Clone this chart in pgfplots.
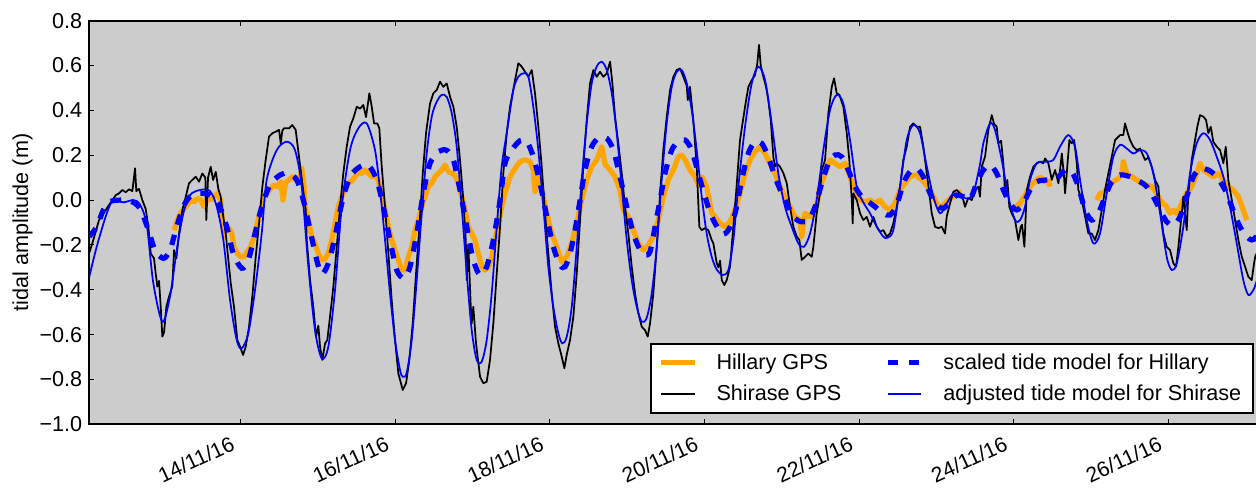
\documentclass[border=0pt]{standalone}
\usepackage{fontspec}
\setmainfont{Liberation Sans}
\usepackage{graphicx}
\usepackage{pgfplots}
\pgfplotsset{compat=1.18}
\definecolor{bgc}{gray}{0.8}
\definecolor{mplorange}{RGB}{255,165,0}
\newcommand{\fs}{\fontsize{10.8}{13}\selectfont}
\newcommand{\rl}[1]{\rotatebox{25}{\fontsize{10.6}{12}\selectfont #1}}
\begin{document}
\begin{tikzpicture}
\begin{axis}[
  scale only axis,
  width=587.55pt, height=201.8pt,
  xmin=12.041, xmax=27.243, ymin=-1, ymax=0.8,
  axis background/.style={fill=bgc},
  axis line style={line width=0.875pt},
  xtick={14,16,18,20,22,24,26},
  xticklabels={\rl{14/11/16},\rl{16/11/16},\rl{18/11/16},\rl{20/11/16},\rl{22/11/16},\rl{24/11/16},\rl{26/11/16}},
  ytick={-1,-0.8,-0.6,-0.4,-0.2,0,0.2,0.4,0.6,0.8},
  yticklabels={−1.0,−0.8,−0.6,−0.4,−0.2,0.0,0.2,0.4,0.6,0.8},
  tick align=inside,
  major tick length=2.6pt,
  tick style={black, line width=0.45pt},
  tick label style={font=\fs},
  xticklabel style={anchor=north east, inner sep=0pt, outer sep=0pt, yshift=-5.5pt, xshift=-2.3pt},
  ylabel={tidal amplitude (m)},
  ylabel style={font=\fs, at={(axis description cs:-0.0568,0.5)}, anchor=center},
  unbounded coords=jump,
  legend columns=2,
  legend cell align=left,
  legend style={at={(rel axis cs:1,0)}, anchor=south east, xshift=-5.35pt, yshift=5.35pt,
    draw=black, line width=0.875pt, fill=white,
    inner xsep=3.8pt, inner ysep=2.675pt, row sep=2.3pt, font=\fs,
    /tikz/every odd column/.append style={column sep=7.7pt},
    /tikz/every even column/.append style={column sep=20pt}},
  legend image code/.code={\draw[#1] (0pt,0pt) -- (16.75pt,0pt);},
]
\addlegendimage{color=mplorange, line width=2.6pt}
\addlegendentry{Hillary GPS}
\addlegendimage{color=blue, line width=2.6pt, dash pattern=on 5.25pt off 5.25pt}
\addlegendentry{scaled tide model for Hillary}
\addlegendimage{color=black, line width=0.875pt}
\addlegendentry{Shirase GPS}
\addlegendimage{color=blue, line width=0.875pt}
\addlegendentry{adjusted tide model for Shirase}

% Hillary GPS
\addplot[forget plot, color=mplorange, line width=2.6pt, line join=round, no marks] coordinates {
(13.137,-0.134) (13.180,-0.089) (13.224,-0.059) (13.267,-0.037) (13.309,-0.022) (13.353,0.000) (13.396,-0.008) (13.439,0.007) (13.483,0.000) (13.525,-0.030) (13.568,0.007) (13.612,0.000) (13.655,0.015) (13.697,0.030) (13.741,0.000) (13.762,-0.089) (13.784,-0.163) (13.806,-0.120) (13.849,-0.126) (13.884,-0.150) (13.913,-0.208) (13.956,-0.238) (14.000,-0.253) (14.043,-0.253) (14.085,-0.230) (14.129,-0.208) (14.172,-0.163) (14.215,-0.104) (14.259,-0.044) (14.301,0.015) (14.344,0.037) (14.388,0.052) (14.431,0.067) (14.473,0.060) (14.517,0.082) (14.547,0.000) (14.582,0.080) (14.625,0.090) (14.667,0.104) (14.711,0.090) (14.754,0.085) (14.789,0.142) (14.819,0.060) (14.832,-0.030) (14.875,-0.089) (14.919,-0.163) (14.961,-0.193) (15.004,-0.238) (15.048,-0.267) (15.091,-0.262) (15.133,-0.238) (15.177,-0.178) (15.220,-0.104) (15.263,-0.030) (15.307,0.015) (15.349,0.052) (15.392,0.075) (15.436,0.085) (15.479,0.104) (15.521,0.127) (15.565,0.118) (15.608,0.134) (15.651,0.120) (15.695,0.104) (15.737,0.110) (15.780,0.090) (15.824,0.015) (15.867,-0.044) (15.910,-0.119) (15.953,-0.178) (15.996,-0.223) (16.039,-0.267) (16.083,-0.312) (16.126,-0.312) (16.168,-0.253) (16.212,-0.208) (16.255,-0.134) (16.298,-0.089) (16.342,-0.030) (16.384,0.015) (16.427,0.060) (16.471,0.075) (16.514,0.104) (16.556,0.119) (16.600,0.134) (16.643,0.156) (16.686,0.128) (16.730,0.119) (16.772,0.112) (16.815,0.075) (16.859,0.015) (16.902,-0.044) (16.944,-0.119) (16.988,-0.149) (17.031,-0.178) (17.074,-0.238) (17.118,-0.297) (17.160,-0.312) (17.203,-0.300) (17.247,-0.253) (17.290,-0.178) (17.333,-0.104) (17.376,-0.030) (17.419,0.030) (17.484,0.104) (17.549,0.141) (17.613,0.171) (17.678,0.180) (17.743,0.171) (17.785,0.134) (17.807,0.037) (17.837,0.119) (17.894,0.045) (17.959,-0.059) (18.023,-0.149) (18.088,-0.208) (18.153,-0.275) (18.217,-0.253) (18.282,-0.193) (18.347,-0.104) (18.411,0.000) (18.476,0.090) (18.541,0.149) (18.605,0.179) (18.670,0.238) (18.713,0.160) (18.778,0.134) (18.842,0.104) (18.907,0.045) (18.950,-0.044) (19.014,-0.074) (19.079,-0.134) (19.144,-0.193) (19.208,-0.223) (19.273,-0.201) (19.338,-0.163) (19.403,-0.089) (19.467,0.015) (19.532,0.090) (19.597,0.134) (19.661,0.193) (19.705,0.200) (19.748,0.180) (19.812,0.134) (19.877,0.104) (19.920,0.070) (19.964,0.104) (20.028,0.060) (20.093,-0.059) (20.136,-0.074) (20.201,-0.104) (20.265,-0.119) (20.330,-0.097) (20.395,-0.044) (20.459,0.030) (20.524,0.119) (20.589,0.179) (20.653,0.216) (20.718,0.238) (20.783,0.208) (20.847,0.164) (20.912,0.119) (20.977,0.060) (21.041,0.015) (21.106,-0.030) (21.171,-0.074) (21.235,-0.089) (21.257,-0.163) (21.300,-0.059) (21.365,-0.074) (21.430,-0.059) (21.494,0.060) (21.559,0.119) (21.624,0.179) (21.688,0.164) (21.753,0.149) (21.818,0.164) (21.882,0.104) (21.947,0.045) (22.012,0.000) (22.076,-0.007) (22.141,0.000) (22.206,-0.015) (22.270,0.000) (22.335,-0.030) (22.400,-0.044) (22.464,-0.015) (22.529,0.045) (22.594,0.075) (22.659,0.104) (22.723,0.112) (22.788,0.097) (22.853,0.075) (22.917,0.045) (22.982,0.000) (23.047,-0.037) (23.111,-0.015) (23.176,0.007) (23.241,0.022) (23.327,0.037) (23.6,nan)
(24.017,-0.020) (24.060,-0.030) (24.104,0.000) (24.146,0.020) (24.189,0.050) (24.233,0.070) (24.276,0.082) (24.318,0.097) (24.362,0.100) (24.405,0.080) (24.448,0.085) (24.470,0.060) (24.7,nan)
(25.074,0.000) (25.116,0.030) (25.159,0.030) (25.224,0.060) (25.289,0.082) (25.353,0.097) (25.397,0.110) (25.418,0.171) (25.462,0.119) (25.527,0.104) (25.591,0.090) (25.656,0.075) (25.721,0.067) (25.785,0.060) (25.850,0.030) (25.893,0.000) (25.935,-0.015) (25.979,-0.030) (26.022,-0.059) (26.065,-0.045) (26.109,-0.059) (26.152,-0.030) (26.194,0.000) (26.238,0.030) (26.303,0.060) (26.367,0.119) (26.410,0.164) (26.453,0.134) (26.518,0.119) (26.582,0.104) (26.647,0.119) (26.712,0.090) (26.776,0.060) (26.841,0.045) (26.906,0.015) (26.970,-0.044) (27.014,-0.089)
};

% Shirase GPS
\addplot[forget plot, color=black, line width=0.875pt, line join=round, no marks] coordinates {
(12.038,-0.238) (12.080,-0.193) (12.124,-0.141) (12.167,-0.089) (12.210,-0.067) (12.254,-0.044) (12.296,-0.022) (12.339,0.000) (12.383,0.022) (12.426,0.030) (12.468,0.045) (12.512,0.035) (12.555,0.048) (12.598,0.040) (12.633,0.142) (12.649,0.040) (12.684,0.050) (12.727,0.000) (12.771,-0.040) (12.805,-0.119) (12.836,-0.238) (12.878,-0.260) (12.900,-0.327) (12.921,-0.386) (12.943,-0.360) (12.965,-0.476) (12.986,-0.609) (13.008,-0.590) (13.038,-0.476) (13.072,-0.431) (13.115,-0.386) (13.137,-0.223) (13.167,-0.260) (13.202,-0.149) (13.245,-0.044) (13.289,0.015) (13.331,0.075) (13.374,0.090) (13.418,0.104) (13.461,0.082) (13.503,0.119) (13.542,0.100) (13.555,-0.089) (13.577,0.100) (13.612,0.149) (13.642,0.090) (13.677,0.126) (13.710,0.050) (13.741,0.015) (13.762,-0.044) (13.806,-0.149) (13.840,-0.267) (13.871,-0.371) (13.913,-0.476) (13.956,-0.624) (14.000,-0.661) (14.030,-0.691) (14.065,-0.654) (14.107,-0.565) (14.150,-0.431) (14.194,-0.253) (14.237,-0.104) (14.280,0.060) (14.323,0.179) (14.366,0.283) (14.409,0.298) (14.453,0.305) (14.496,0.313) (14.517,0.253) (14.538,0.310) (14.560,0.320) (14.625,0.320) (14.667,0.335) (14.711,0.313) (14.754,0.193) (14.797,0.075) (14.841,-0.044) (14.854,-0.178) (14.897,-0.357) (14.939,-0.476) (14.974,-0.609) (15.004,-0.560) (15.026,-0.654) (15.056,-0.713) (15.091,-0.640) (15.120,-0.624) (15.155,-0.520) (15.198,-0.386) (15.242,-0.208) (15.285,-0.030) (15.327,0.119) (15.371,0.238) (15.414,0.327) (15.457,0.365) (15.501,0.416) (15.544,0.408) (15.586,0.424) (15.621,0.370) (15.664,0.476) (15.695,0.416) (15.725,0.342) (15.767,0.342) (15.793,0.320) (15.824,0.149) (15.867,-0.030) (15.910,-0.238) (15.953,-0.446) (15.996,-0.624) (16.039,-0.773) (16.096,-0.847) (16.139,-0.817) (16.181,-0.713) (16.225,-0.550) (16.268,-0.327) (16.311,-0.119) (16.355,0.119) (16.397,0.298) (16.449,0.431) (16.492,0.476) (16.536,0.491) (16.578,0.528) (16.621,0.505) (16.665,0.520) (16.708,0.461) (16.751,0.416) (16.794,0.327) (16.837,0.179) (16.880,0.000) (16.911,-0.178) (16.924,-0.357) (16.944,-0.200) (16.976,-0.476) (16.988,-0.550) (17.009,-0.476) (17.044,-0.639) (17.096,-0.788) (17.139,-0.817) (17.182,-0.810) (17.225,-0.713) (17.268,-0.550) (17.312,-0.327) (17.355,-0.119) (17.397,0.119) (17.441,0.298) (17.484,0.416) (17.549,0.535) (17.591,0.610) (17.635,0.595) (17.678,0.572) (17.721,0.550) (17.765,0.580) (17.807,0.476) (17.850,0.327) (17.894,0.149) (17.937,-0.059) (17.979,-0.238) (18.023,-0.416) (18.066,-0.565) (18.109,-0.639) (18.153,-0.699) (18.187,-0.750) (18.217,-0.690) (18.260,-0.624) (18.303,-0.520) (18.347,-0.327) (18.390,-0.089) (18.432,0.149) (18.476,0.357) (18.519,0.521) (18.562,0.580) (18.605,0.550) (18.648,0.572) (18.691,0.550) (18.735,0.565) (18.778,0.617) (18.808,0.521) (18.842,0.372) (18.885,0.253) (18.929,0.119) (18.972,-0.030) (19.014,-0.149) (19.058,-0.297) (19.101,-0.416) (19.144,-0.505) (19.188,-0.565) (19.230,-0.580) (19.265,-0.609) (19.295,-0.550) (19.338,-0.416) (19.382,-0.208) (19.425,0.030) (19.467,0.223) (19.511,0.372) (19.554,0.491) (19.597,0.550) (19.640,0.580) (19.683,0.587) (19.726,0.550) (19.770,0.510) (19.783,0.446) (19.812,0.505) (19.855,0.357) (19.899,0.149) (19.933,-0.119) (19.964,-0.134) (20.007,-0.125) (20.049,-0.134) (20.093,-0.178) (20.114,-0.193) (20.158,-0.282) (20.179,-0.300) (20.201,-0.270) (20.223,-0.357) (20.256,-0.379) (20.287,-0.357) (20.330,-0.297) (20.365,-0.149) (20.408,0.030) (20.459,0.268) (20.524,0.416) (20.567,0.505) (20.611,0.535) (20.653,0.557) (20.683,0.610) (20.705,0.692) (20.727,0.600) (20.761,0.550) (20.796,0.505) (20.825,0.446) (20.857,0.357) (20.890,0.193) (20.912,0.149) (20.934,0.164) (20.977,0.149) (21.020,0.120) (21.064,0.075) (21.106,-0.030) (21.149,-0.119) (21.193,-0.163) (21.227,-0.178) (21.257,-0.267) (21.300,-0.253) (21.343,-0.238) (21.387,-0.253) (21.408,-0.208) (21.451,-0.059) (21.494,0.030) (21.516,0.134) (21.559,0.179) (21.602,0.387) (21.646,0.505) (21.676,0.543) (21.710,0.476) (21.744,0.470) (21.796,0.416) (21.840,0.298) (21.873,0.179) (21.905,0.000) (21.917,-0.104) (21.925,0.030) (21.969,0.000) (22.012,-0.059) (22.054,-0.089) (22.099,-0.075) (22.141,-0.119) (22.184,-0.075) (22.228,-0.119) (22.270,-0.141) (22.313,-0.134) (22.357,-0.163) (22.400,-0.149) (22.442,-0.104) (22.487,-0.030) (22.529,0.060) (22.572,0.179) (22.616,0.238) (22.659,0.327) (22.701,0.342) (22.745,0.327) (22.788,0.327) (22.831,0.238) (22.875,0.119) (22.908,0.030) (22.939,-0.059) (22.982,-0.119) (23.025,-0.125) (23.069,-0.119) (23.111,-0.149) (23.133,-0.074) (23.176,-0.015) (23.219,0.037) (23.263,0.045) (23.305,0.030) (23.348,0.000) (23.370,-0.030) (23.413,0.010) (23.457,0.000) (23.500,0.045) (23.542,0.060) (23.564,0.015) (23.586,0.149) (23.629,0.193) (23.672,0.313) (23.716,0.379) (23.745,0.340) (23.780,0.327) (23.801,0.253) (23.836,0.265) (23.866,0.164) (23.888,0.030) (23.917,0.090) (23.943,-0.030) (23.974,-0.059) (24.017,-0.089) (24.060,-0.178) (24.091,-0.119) (24.108,-0.110) (24.138,-0.208) (24.169,0.045) (24.211,0.104) (24.254,0.149) (24.298,0.164) (24.341,0.171) (24.383,0.164) (24.405,0.186) (24.448,0.164) (24.492,0.090) (24.535,0.134) (24.578,0.075) (24.599,0.134) (24.622,0.208) (24.651,0.104) (24.664,0.030) (24.686,0.120) (24.720,0.268) (24.750,0.253) (24.781,0.268) (24.816,0.164) (24.836,0.045) (24.880,0.000) (24.923,-0.074) (24.966,-0.149) (25.009,-0.149) (25.052,-0.178) (25.095,-0.134) (25.139,-0.044) (25.181,0.045) (25.224,0.119) (25.268,0.193) (25.311,0.268) (25.333,0.275) (25.375,0.290) (25.418,0.290) (25.440,0.342) (25.483,0.290) (25.505,0.268) (25.547,0.238) (25.591,0.223) (25.634,0.230) (25.699,0.179) (25.742,0.190) (25.785,0.149) (25.828,0.090) (25.871,0.060) (25.893,-0.030) (25.935,-0.149) (25.979,-0.208) (26.022,-0.223) (26.065,-0.282) (26.100,-0.297) (26.130,-0.208) (26.174,-0.059) (26.194,0.015) (26.216,-0.059) (26.238,-0.134) (26.259,0.030) (26.303,0.179) (26.346,0.268) (26.375,0.327) (26.410,0.379) (26.453,0.372) (26.488,0.357) (26.518,0.298) (26.549,0.327) (26.582,0.260) (26.626,0.238) (26.669,0.223) (26.712,0.164) (26.743,0.238) (26.776,0.090) (26.821,0.000) (26.863,-0.089) (26.906,-0.178) (26.950,-0.253) (26.993,-0.297) (27.035,-0.342) (27.079,-0.357) (27.109,-0.282) (27.126,-0.250) (27.200,-0.200)
};

% scaled tide model for Hillary
\addplot[forget plot, color=blue, line width=2.6pt, dash pattern=on 5.25pt off 5.25pt, smooth, tension=0.5, no marks] coordinates {
(12.041,-0.163) (12.137,-0.119) (12.223,-0.044) (12.309,-0.007) (12.439,0.000) (12.568,-0.003) (12.697,-0.037) (12.805,-0.134) (12.891,-0.223) (12.999,-0.260) (13.085,-0.223) (13.172,-0.119) (13.257,-0.030) (13.344,0.015) (13.474,0.030) (13.603,0.022) (13.710,-0.015) (13.819,-0.119) (13.904,-0.238) (14.013,-0.304) (14.098,-0.267) (14.185,-0.149) (14.272,-0.030) (14.379,0.067) (14.509,0.112) (14.616,0.120) (14.725,0.090) (14.810,0.000) (14.897,-0.134) (14.983,-0.267) (15.048,-0.330) (15.133,-0.282) (15.220,-0.163) (15.307,-0.015) (15.414,0.104) (15.544,0.149) (15.651,0.156) (15.760,0.090) (15.845,-0.030) (15.931,-0.178) (16.018,-0.312) (16.113,-0.349) (16.190,-0.297) (16.277,-0.149) (16.362,0.030) (16.449,0.164) (16.556,0.216) (16.665,0.222) (16.751,0.179) (16.837,0.045) (16.924,-0.119) (17.009,-0.267) (17.096,-0.334) (17.182,-0.297) (17.268,-0.178) (17.355,0.000) (17.419,0.164) (17.506,0.223) (17.613,0.265) (17.700,0.262) (17.785,0.193) (17.872,0.075) (17.959,-0.074) (18.044,-0.208) (18.131,-0.290) (18.196,-0.297) (18.260,-0.238) (18.325,-0.134) (18.390,0.000) (18.454,0.134) (18.541,0.238) (18.626,0.275) (18.735,0.275) (18.820,0.223) (18.907,0.104) (18.994,-0.030) (19.079,-0.149) (19.166,-0.223) (19.230,-0.245) (19.295,-0.230) (19.360,-0.119) (19.425,0.000) (19.489,0.119) (19.576,0.223) (19.661,0.260) (19.748,0.268) (19.834,0.223) (19.920,0.119) (20.007,0.015) (20.093,-0.074) (20.223,-0.149) (20.308,-0.134) (20.395,-0.059) (20.481,0.090) (20.567,0.208) (20.653,0.260) (20.740,0.253) (20.825,0.193) (20.912,0.104) (20.999,0.030) (21.084,-0.030) (21.171,-0.082) (21.257,-0.097) (21.343,-0.089) (21.430,-0.030) (21.516,0.075) (21.602,0.164) (21.688,0.201) (21.775,0.193) (21.860,0.134) (21.947,0.060) (22.034,0.015) (22.119,-0.007) (22.206,-0.030) (22.313,-0.059) (22.400,-0.067) (22.487,-0.022) (22.572,0.075) (22.659,0.127) (22.745,0.141) (22.831,0.104) (22.917,0.030) (23.004,-0.022) (23.089,-0.037) (23.176,-0.007) (23.263,0.022) (23.348,0.015) (23.435,0.003) (23.521,0.075) (23.607,0.134) (23.693,0.156) (23.780,0.119) (23.866,0.045) (23.952,-0.015) (24.039,-0.044) (24.124,-0.015) (24.211,0.045) (24.298,0.082) (24.427,0.090) (24.556,0.097) (24.664,0.134) (24.750,0.127) (24.836,0.060) (24.923,-0.044) (25.009,-0.089) (25.095,-0.059) (25.181,0.015) (25.268,0.082) (25.375,0.112) (25.505,0.104) (25.634,0.082) (25.721,0.060) (25.806,0.015) (25.893,-0.044) (25.979,-0.097) (26.065,-0.112) (26.152,-0.074) (26.238,0.015) (26.324,0.104) (26.410,0.141) (26.518,0.134) (26.626,0.104) (26.734,0.045) (26.821,-0.030) (26.906,-0.104) (26.993,-0.156) (27.079,-0.178) (27.135,-0.165) (27.200,-0.130)
};

% adjusted tide model for Shirase
\addplot[forget plot, color=blue, line width=0.875pt, smooth, tension=0.5, no marks] coordinates {
(12.041,-0.342) (12.137,-0.208) (12.267,-0.059) (12.352,0.000) (12.481,-0.010) (12.611,0.000) (12.697,-0.020) (12.784,-0.110) (12.869,-0.370) (12.986,-0.543) (13.085,-0.430) (13.172,-0.223) (13.257,-0.060) (13.344,0.022) (13.474,0.045) (13.603,0.040) (13.690,-0.030) (13.775,-0.178) (13.862,-0.446) (13.948,-0.624) (14.013,-0.661) (14.098,-0.594) (14.185,-0.401) (14.272,-0.147) (14.336,0.090) (14.466,0.223) (14.595,0.260) (14.702,0.223) (14.789,0.060) (14.875,-0.297) (14.961,-0.580) (15.048,-0.706) (15.133,-0.654) (15.220,-0.400) (15.307,-0.030) (15.414,0.223) (15.521,0.320) (15.630,0.342) (15.737,0.223) (15.802,0.045) (15.867,-0.178) (15.931,-0.416) (15.996,-0.624) (16.061,-0.758) (16.096,-0.788) (16.147,-0.770) (16.212,-0.624) (16.277,-0.357) (16.342,-0.059) (16.406,0.208) (16.471,0.372) (16.536,0.439) (16.600,0.469) (16.665,0.460) (16.730,0.387) (16.794,0.238) (16.859,-0.030) (16.924,-0.327) (16.988,-0.580) (17.053,-0.713) (17.118,-0.720) (17.182,-0.624) (17.247,-0.416) (17.312,-0.119) (17.376,0.149) (17.441,0.298) (17.527,0.491) (17.591,0.550) (17.656,0.565) (17.721,0.550) (17.785,0.416) (17.850,0.223) (17.915,-0.030) (17.979,-0.297) (18.044,-0.476) (18.109,-0.594) (18.160,-0.639) (18.217,-0.610) (18.282,-0.476) (18.347,-0.208) (18.411,0.090) (18.476,0.342) (18.541,0.521) (18.605,0.595) (18.670,0.617) (18.735,0.580) (18.800,0.476) (18.864,0.298) (18.929,0.060) (18.994,-0.178) (19.058,-0.357) (19.123,-0.476) (19.188,-0.543) (19.252,-0.525) (19.317,-0.416) (19.382,-0.208) (19.446,0.090) (19.511,0.342) (19.576,0.505) (19.640,0.572) (19.705,0.580) (19.770,0.521) (19.834,0.402) (19.899,0.223) (19.964,0.015) (20.028,-0.149) (20.093,-0.253) (20.158,-0.310) (20.235,-0.334) (20.308,-0.312) (20.373,-0.178) (20.437,0.060) (20.524,0.327) (20.611,0.521) (20.696,0.595) (20.783,0.535) (20.869,0.342) (20.955,0.119) (21.041,-0.030) (21.128,-0.119) (21.213,-0.193) (21.287,-0.208) (21.365,-0.149) (21.451,0.000) (21.537,0.223) (21.624,0.402) (21.710,0.469) (21.796,0.430) (21.882,0.268) (21.969,0.060) (22.054,-0.010) (22.141,-0.059) (22.228,-0.119) (22.313,-0.163) (22.365,-0.168) (22.442,-0.134) (22.529,0.060) (22.616,0.268) (22.701,0.335) (22.788,0.298) (22.875,0.150) (22.960,0.015) (23.047,-0.059) (23.133,-0.015) (23.219,0.030) (23.305,0.022) (23.392,0.007) (23.477,0.030) (23.564,0.160) (23.607,0.253) (23.693,0.342) (23.758,0.313) (23.845,0.179) (23.930,0.015) (24.017,-0.089) (24.082,-0.089) (24.146,-0.030) (24.211,0.090) (24.298,0.164) (24.405,0.171) (24.512,0.179) (24.599,0.238) (24.706,0.290) (24.793,0.238) (24.858,0.090) (24.944,-0.089) (25.030,-0.193) (25.116,-0.149) (25.203,0.030) (25.289,0.193) (25.375,0.246) (25.462,0.230) (25.547,0.208) (25.634,0.223) (25.721,0.208) (25.806,0.119) (25.893,-0.059) (25.979,-0.253) (26.044,-0.312) (26.109,-0.282) (26.194,-0.119) (26.281,0.119) (26.367,0.253) (26.453,0.298) (26.540,0.268) (26.626,0.193) (26.712,0.104) (26.798,-0.030) (26.885,-0.193) (26.970,-0.357) (27.035,-0.423) (27.100,-0.401) (27.135,-0.370) (27.200,-0.300)
};
\end{axis}
\pgfresetboundingbox
\useasboundingbox (-44.65pt,-31.35pt) rectangle (583.35pt,212.15pt);
\end{tikzpicture}
\end{document}
